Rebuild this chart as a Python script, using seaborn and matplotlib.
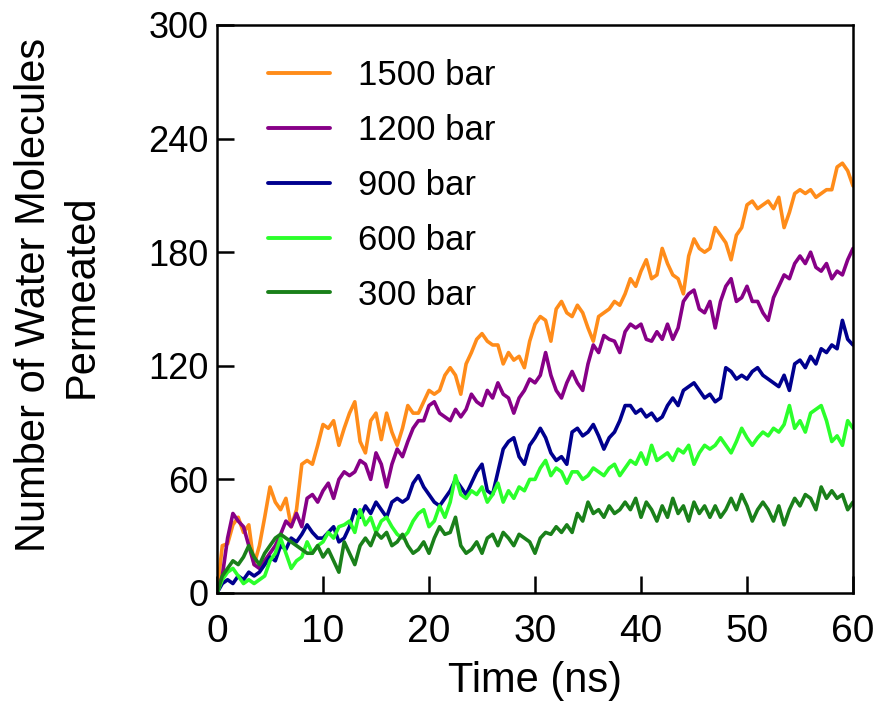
import numpy as np
import pandas as pd
import matplotlib
matplotlib.use("Agg")
import matplotlib.pyplot as plt
import seaborn as sns

# ---------------- data (one value per 0.5 ns) ----------------
time_ns = [i * 0.5 for i in range(121)]

p1500 = [0, 25, 26, 36, 40, 32, 36, 15, 25, 40, 56, 48, 44, 50, 35, 44, 68, 70, 68, 78,
         89, 87, 91, 78, 87, 95, 101, 80, 74, 91, 95, 81, 95, 85, 78, 87, 99, 95, 95, 101,
         107, 105, 107, 115, 119, 115, 105, 121, 127, 134, 137, 133, 131, 131, 121, 127, 123, 125, 119, 133,
         142, 146, 144, 133, 150, 154, 148, 146, 152, 148, 140, 133, 146, 148, 150, 154, 152, 158, 166, 162,
         170, 176, 166, 168, 182, 174, 168, 166, 158, 178, 187, 182, 180, 182, 193, 189, 185, 176, 189, 193,
         205, 207, 203, 205, 207, 203, 209, 193, 201, 211, 213, 211, 213, 209, 211, 213, 213, 225, 227, 223,
         215]

p1200 = [0, 9, 29, 42, 38, 35, 25, 15, 13, 17, 21, 25, 31, 38, 35, 42, 35, 50, 52, 48,
         54, 58, 50, 60, 64, 62, 64, 70, 68, 60, 74, 68, 56, 68, 76, 72, 80, 87, 91, 91,
         99, 101, 95, 93, 91, 97, 93, 97, 105, 101, 99, 107, 103, 111, 105, 103, 95, 103, 107, 113,
         111, 115, 127, 115, 107, 103, 111, 117, 111, 107, 121, 131, 127, 136, 134, 133, 127, 138, 142, 140,
         142, 134, 133, 138, 134, 142, 134, 140, 154, 158, 160, 150, 148, 154, 140, 154, 162, 166, 154, 156,
         162, 154, 154, 148, 144, 156, 162, 168, 166, 174, 178, 174, 180, 172, 170, 174, 166, 170, 168, 176,
         182]

p900 = [0, 5, 7, 5, 9, 7, 11, 9, 11, 15, 19, 17, 25, 23, 29, 27, 31, 36, 32, 29,
        29, 32, 35, 27, 29, 35, 44, 40, 46, 42, 48, 44, 40, 48, 50, 48, 50, 58, 62, 56,
        52, 48, 46, 50, 54, 60, 56, 52, 58, 64, 68, 54, 52, 64, 76, 80, 82, 72, 68, 78,
        82, 87, 82, 74, 70, 72, 68, 85, 87, 83, 85, 89, 83, 76, 82, 85, 91, 99, 99, 95,
        97, 93, 95, 91, 93, 99, 103, 99, 107, 109, 111, 107, 103, 105, 101, 103, 119, 117, 113, 115,
        113, 117, 119, 115, 113, 111, 109, 115, 107, 121, 123, 119, 125, 121, 129, 127, 131, 129, 144, 134,
        131]

p600 = [0, 7, 11, 13, 9, 5, 7, 5, 7, 9, 17, 21, 29, 21, 13, 17, 19, 27, 21, 25,
        27, 32, 29, 35, 36, 38, 32, 44, 36, 40, 32, 38, 40, 35, 31, 29, 32, 38, 42, 44,
        35, 38, 46, 40, 48, 62, 52, 50, 54, 52, 56, 48, 52, 58, 48, 54, 50, 56, 54, 60,
        60, 66, 70, 62, 66, 64, 58, 64, 64, 60, 62, 66, 64, 62, 66, 68, 62, 66, 70, 68,
        74, 68, 78, 70, 72, 74, 70, 76, 74, 78, 68, 74, 78, 76, 78, 82, 78, 74, 80, 87,
        82, 78, 82, 85, 83, 87, 85, 89, 99, 87, 91, 85, 95, 97, 99, 91, 80, 83, 78, 91,
        87]

p300 = [0, 9, 13, 17, 15, 19, 25, 19, 15, 21, 25, 29, 31, 29, 27, 25, 23, 21, 21, 25,
        19, 23, 17, 11, 27, 21, 15, 25, 29, 25, 32, 29, 32, 25, 27, 31, 25, 21, 23, 27,
        21, 29, 35, 31, 32, 40, 25, 21, 23, 27, 21, 29, 31, 25, 32, 29, 25, 31, 29, 27,
        21, 29, 32, 31, 35, 32, 36, 32, 42, 38, 48, 42, 44, 40, 46, 42, 44, 48, 44, 50,
        40, 48, 44, 38, 46, 40, 50, 42, 46, 38, 48, 42, 46, 40, 46, 40, 44, 50, 44, 52,
        46, 38, 44, 48, 44, 38, 46, 36, 44, 50, 46, 52, 50, 44, 56, 50, 54, 50, 52, 44,
        48]

series_labels = ["1500 bar", "1200 bar", "900 bar", "600 bar", "300 bar"]
series_values = [p1500, p1200, p900, p600, p300]
series_colors = ["#FF8C1A", "#870087", "#00008E", "#2BFF2B", "#1A801A"]

x_ticks = [0, 10, 20, 30, 40, 50, 60]
y_ticks = [0, 60, 120, 180, 240, 300]

# ---------------- build long-form table ----------------
frames = []
for lab, vals in zip(series_labels, series_values):
    frames.append(pd.DataFrame({"Time": time_ns, "Count": vals, "Pressure": lab}))
df = pd.concat(frames, ignore_index=True)

sns.set_style("ticks")
plt.rcParams["font.family"] = ["Liberation Sans", "DejaVu Sans"]
plt.rcParams["text.color"] = "black"
plt.rcParams["axes.labelcolor"] = "black"
plt.rcParams["xtick.color"] = "black"
plt.rcParams["ytick.color"] = "black"

fig = plt.figure(figsize=(8.8, 7.06), dpi=100)
ax = fig.add_axes([217 / 880, 1 - 593 / 706, (853 - 217) / 880, (593 - 25) / 706])

sns.lineplot(data=df, x="Time", y="Count", hue="Pressure", hue_order=series_labels,
             palette=dict(zip(series_labels, series_colors)), estimator=None,
             linewidth=2.6, ax=ax)

ax.set_xlim(0, 60)
ax.set_ylim(0, 300)
ax.set_xticks(x_ticks)
ax.set_yticks(y_ticks)
ax.tick_params(direction="in", length=12, width=1.8, colors="black")
ax.tick_params(axis="x", labelsize=28, pad=15)
ax.tick_params(axis="y", labelsize=26, pad=6)
for s in ax.spines.values():
    s.set_linewidth(1.8)
    s.set_color("black")

ax.set_xlabel("Time (ns)", fontsize=30, labelpad=8, color="black")
ax.set_ylabel("")
fig.text(34 / 880, 1 - 295 / 706, "Number of Water Molecules", rotation=90,
         fontsize=30, ha="center", va="center", color="black")
fig.text(82 / 880, 1 - 296 / 706, "Permeated", rotation=90,
         fontsize=30, ha="center", va="center", color="black")

leg = ax.legend(loc="upper left", bbox_to_anchor=(0.08, 0.940), frameon=False,
                fontsize=25, handlelength=1.8, handletextpad=0.8, labelspacing=0.63,
                borderpad=0, borderaxespad=0)
for h in leg.get_lines():
    h.set_linewidth(2.8)
for t in leg.get_texts():
    t.set_color("black")

fig.savefig("out.png", dpi=100)
